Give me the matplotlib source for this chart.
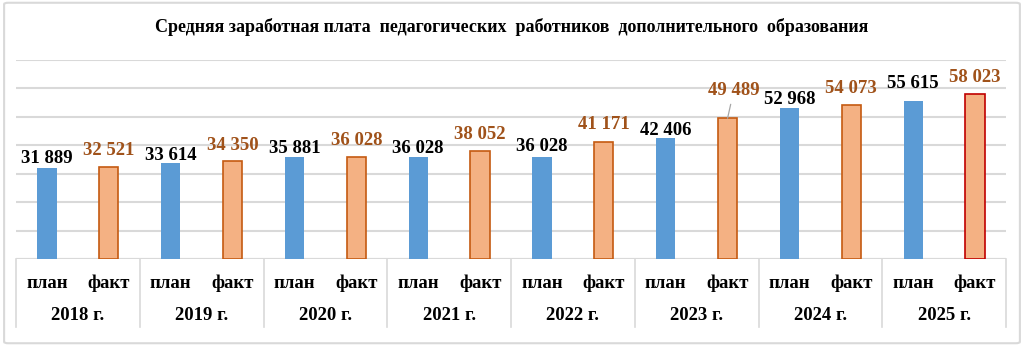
import numpy as np
import matplotlib.pyplot as plt
from matplotlib.patches import FancyBboxPatch
from matplotlib.transforms import blended_transform_factory

plt.rcParams['font.family'] = ['Liberation Serif', 'DejaVu Serif']
plt.rcParams['font.weight'] = 'bold'

title = "Средняя заработная плата  педагогических  работников  дополнительного  образования"
years = ["2018 г.", "2019 г.", "2020 г.", "2021 г.", "2022 г.", "2023 г.", "2024 г.", "2025 г."]
plan = [31889, 33614, 35881, 36028, 36028, 42406, 52968, 55615]
fact = [32521, 34350, 36028, 38052, 41171, 49489, 54073, 58023]
kinds = ["план", "факт"]

# label lift above bar top, in pixels
plan_lift = [10, 8, 8, 8, 10, 8, 9, 17]
fact_lift = [16, 16, 16, 16, 17, 28, 17, 17]

c_plan = "#5B9BD5"
c_fact = "#F4B183"
c_fact_edge = "#C55A11"
c_fact_txt = "#A0521A"

fig = plt.figure(figsize=(10.24, 3.46), dpi=100)
fig.patches.append(FancyBboxPatch((0.004, 0.008), 0.992, 0.984, boxstyle="round,pad=0,rounding_size=0.004",
                                  transform=fig.transFigure, fill=False, edgecolor="#D9D9D9", lw=1.5))
ax = fig.add_axes([16 / 1024, 1 - 259 / 346, 990 / 1024, 199 / 346])

n = len(years)
xp = np.arange(n) * 2
xf = xp + 1
w = 0.31
ax.bar(xp, plan, width=w, color=c_plan, zorder=3)
edges = [c_fact_edge] * (n - 1) + ["#C00000"]
ax.bar(xf, fact, width=w, color=c_fact, edgecolor=edges, linewidth=1.2, zorder=3)

def fmt(v):
    return f"{v:,}".replace(",", " ")

for i in range(n):
    ax.annotate(fmt(plan[i]), (xp[i], plan[i]), xytext=(0, plan_lift[i] * 0.72), textcoords="offset points",
                ha="center", va="center", fontsize=13.5, color="black", zorder=4)
    if i == 5:
        ax.annotate(fmt(fact[i]), (xf[i], fact[i]), xytext=(4.5, fact_lift[i] * 0.72), textcoords="offset points",
                    ha="center", va="center", fontsize=13.5, color=c_fact_txt, zorder=4,
                    arrowprops=dict(arrowstyle="-", color="#A6A6A6", lw=0.9, shrinkA=2, shrinkB=0))
    else:
        ax.annotate(fmt(fact[i]), (xf[i], fact[i]), xytext=(0, fact_lift[i] * 0.72), textcoords="offset points",
                    ha="center", va="center", fontsize=13.5, color=c_fact_txt, zorder=4)

ax.set_xlim(-0.5, 2 * n - 0.5)
ax.set_ylim(0, 70000)
ax.set_yticks(np.arange(0, 70001, 10000))
ax.yaxis.grid(True, color="#D9D9D9", lw=1.5, zorder=0)
ax.tick_params(left=False, labelleft=False, bottom=False, labelbottom=False)
for s in ax.spines.values():
    s.set_visible(False)
ax.axhline(0, color="#D9D9D9", lw=1.5, zorder=2)

# category table under the axis
tr = blended_transform_factory(ax.transData, ax.transAxes)
bot = -68 / 199
for k in range(n + 1):
    ax.plot([2 * k - 0.5, 2 * k - 0.5], [0, bot], transform=tr, color="#D9D9D9", lw=1.2, clip_on=False)
for i in range(n):
    for j, kind in enumerate(kinds):
        ax.text(2 * i + j, -24 / 199, kind, transform=tr, ha="center", va="center", fontsize=13.5)
    ax.text(2 * i + 0.5, -57 / 199, years[i], transform=tr, ha="center", va="center", fontsize=13.5)

fig.text(0.5, 1 - 27 / 346, title, ha="center", va="center", fontsize=13)

fig.savefig("out.png", dpi=100)
